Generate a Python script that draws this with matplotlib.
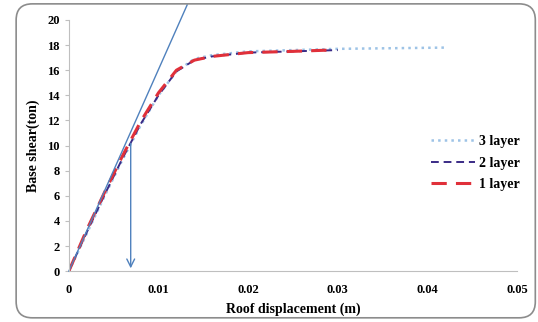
import matplotlib
matplotlib.use('Agg')
import matplotlib.pyplot as plt
from matplotlib.patches import FancyBboxPatch

# pushover curves (roof displacement in m, base shear in ton)
disp_3 = [0, 0.002, 0.004, 0.006, 0.008, 0.010, 0.012, 0.014, 0.016, 0.020, 0.025, 0.030, 0.036, 0.042]
shear_3 = [0, 3.0, 6.0, 8.9, 11.6, 14.0, 15.9, 16.9, 17.2, 17.5, 17.6, 17.7, 17.75, 17.8]
disp_2 = [0, 0.002, 0.004, 0.006, 0.008, 0.010, 0.012, 0.014, 0.016, 0.020, 0.025, 0.030]
shear_2 = [0, 3.1, 6.1, 9.0, 11.7, 14.0, 15.9, 16.8, 17.1, 17.4, 17.5, 17.6]
disp_1 = [0, 0.002, 0.004, 0.006, 0.008, 0.010, 0.012, 0.014, 0.016, 0.020, 0.025, 0.029]
shear_1 = [0, 3.3, 6.3, 9.2, 11.9, 14.2, 16.0, 16.8, 17.1, 17.4, 17.5, 17.6]

# initial stiffness line and yield displacement arrow
tangent_x = [0, 0.0132]
tangent_y = [0, 21.2]
yield_disp = 0.0069
yield_shear = 10.4

plt.rcParams['font.family'] = ['Liberation Serif', 'DejaVu Serif']
plt.rcParams['font.weight'] = 'bold'

fig = plt.figure(figsize=(5.38, 3.22), dpi=100)
ax = fig.add_axes([0.128, 0.158, 0.833, 0.780])

frame = FancyBboxPatch((0.03, 0.013), 0.965, 0.975, boxstyle='round,pad=0,rounding_size=0.03',
                       transform=fig.transFigure, fill=False, edgecolor='#8c8c8c', lw=1.2,
                       mutation_aspect=538/322)
fig.patches.append(frame)

ax.plot(disp_3, shear_3, color='#9dc3e6', ls=':', lw=1.8, label='3 layer')
ax.plot(disp_2, shear_2, color='#3a2b86', ls=(0, (4, 2.5)), lw=1.4, label='2 layer')
ax.plot(disp_1, shear_1, color='#e0303a', ls=(0, (5, 3)), lw=2.2, label='1 layer')

ax.plot(tangent_x, tangent_y, color='#4f81bd', lw=1, clip_on=False)
ax.annotate('', xy=(yield_disp, 0), xytext=(yield_disp, yield_shear),
            arrowprops=dict(arrowstyle='->', color='#4f81bd', lw=1, mutation_scale=14))

ax.set_xlim(0, 0.05)
ax.set_ylim(0, 20)
ax.set_xticks([0, 0.01, 0.02, 0.03, 0.04, 0.05])
ax.set_xticklabels(['0', '0.01', '0.02', '0.03', '0.04', '0.05'])
ax.set_yticks(range(0, 21, 2))
ax.tick_params(labelsize=9, length=3, color='#bfbfbf')
ax.tick_params(axis='x', length=0, pad=9)

for s in ['top', 'right']:
    ax.spines[s].set_visible(False)
ax.spines['left'].set_color('#bfbfbf')
ax.spines['bottom'].set_color('#bfbfbf')

ax.set_xlabel('Roof displacement (m)', fontsize=10, fontweight='bold', labelpad=5)
ax.set_ylabel('Base shear(ton)', fontsize=10, fontweight='bold', labelpad=5)

ax.legend(loc='center right', bbox_to_anchor=(1.035, 0.43), frameon=False, fontsize=10,
          handlelength=3.2, labelspacing=0.6, handletextpad=0.3)

fig.savefig('out.png', dpi=100)
